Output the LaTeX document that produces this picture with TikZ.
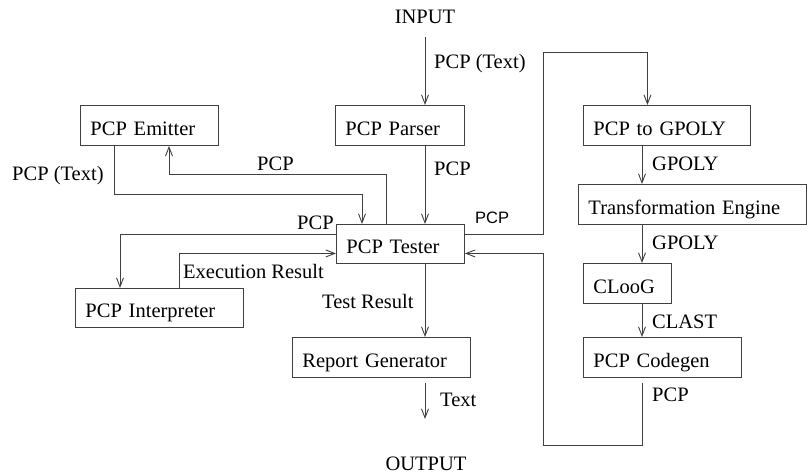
\documentclass[tikz,border=0pt]{standalone}
\usepackage{fontspec}
\setmainfont{Liberation Serif}
\newfontfamily\lsans{Liberation Sans}
\usetikzlibrary{arrows.meta}
\begin{document}
\begin{tikzpicture}[x=1pt,y=-1pt,
  font=\fontsize{20.5}{24}\selectfont,
  conn/.style={draw=black!75,line width=0.9pt,-{Straight Barb[length=9pt,width=7pt]}},
  blk/.style={draw=black!75,line width=0.9pt,anchor=north west,inner xsep=10pt,inner ysep=0pt,
    text height=19.5pt,text depth=0pt,align=left},
  lbl/.style={anchor=base west,inner sep=0pt}]
\useasboundingbox (0,0) rectangle (807,474);
% boxes
\node[blk,minimum width=138pt,minimum height=40pt,text width=118pt] (emitter) at (80,105) {PCP Emitter};
\node[blk,minimum width=129pt,minimum height=40pt,text width=109pt] (parser) at (335,105) {PCP Parser};
\node[blk,minimum width=167pt,minimum height=40pt,text width=147pt] (togpoly) at (583,105) {PCP to GPOLY};
\node[blk,minimum width=228pt,minimum height=40pt,text width=208pt] (trans) at (578,184) {Transformation Engine};
\node[blk,minimum width=128pt,minimum height=39pt,text width=108pt] (tester) at (336,224) {PCP Tester};
\node[blk,minimum width=88pt,minimum height=40pt,text width=68pt] (cloog) at (583,263) {CLooG};
\node[blk,minimum width=158pt,minimum height=40pt,text width=138pt] (codegen) at (583,337) {PCP Codegen};
\node[blk,minimum width=168pt,minimum height=39pt,text width=148pt] (interp) at (75,288) {PCP Interpreter};
\node[blk,minimum width=178pt,minimum height=40pt,text width=158pt] (report) at (292,337) {Report Generator};
% terminals
\node[anchor=base,inner sep=0pt] (input) at (425,23) {INPUT};
\node[anchor=base,inner sep=0pt] (output) at (426,470) {OUTPUT};
\coordinate (cmid) at (425,0);
\coordinate (cright) at (642,0);
% connectors
\draw[conn] ([yshift=-14pt]input.base) -- (parser.north -| cmid);
\draw[conn] (parser.south -| cmid) -- (tester.north -| cmid);
\draw[conn] (tester.south -| cmid) -- (report.north -| cmid);
\draw[conn] ([yshift=-5pt]report.south -| cmid) -- ([yshift=51pt]output.base -| cmid);
\draw[conn] ([yshift=10pt]tester.east) -| (543,52) -| ([xshift=-19.5pt]togpoly.north);
\draw[conn] (togpoly.south -| cright) -- (trans.north -| cright);
\draw[conn] (trans.south -| cright) -- (cloog.north -| cright);
\draw[conn] (cloog.south -| cright) -- (codegen.north -| cright);
\draw[conn] ([yshift=-5pt]codegen.south -| cright) |- (543,445) |- ([yshift=-9.5pt]tester.east);
\draw[conn] (tester.north -| 386,0) |- (169,174) -- (emitter.south -| 169,0);
\draw[conn] (emitter.south -| 114,0) |- (362,194) -- (tester.north -| 362,0);
\draw[conn] ([yshift=10pt]tester.west) -| (interp.north -| 120,0);
\draw[conn] (interp.north -| 179,0) |- ([yshift=-9.5pt]tester.west);
% labels
\node[lbl] (l1) at (434,68) {PCP (Text)};
\node[lbl] (l2) at (434,175) {PCP};
\node[lbl,font=\lsans\fontsize{16.5}{20}\selectfont] (l3) at (475,223) {PCP};
\node[lbl] (l4) at (652,170) {GPOLY};
\node[lbl] (l5) at (652,249) {GPOLY};
\node[lbl] (l6) at (652,328) {CLAST};
\node[lbl] (l7) at (652,401) {PCP};
\node[lbl] (l8) at (12,180) {PCP (Text)};
\node[lbl] (l9) at (257,170) {PCP};
\node[lbl] (l10) at (297,229) {PCP};
\node[lbl] (l11) at (183,278) {Execution Result};
\node[lbl] (l12) at (322,308) {Test Result};
\node[lbl] (l13) at (440,406) {Text};
\end{tikzpicture}
\end{document}
